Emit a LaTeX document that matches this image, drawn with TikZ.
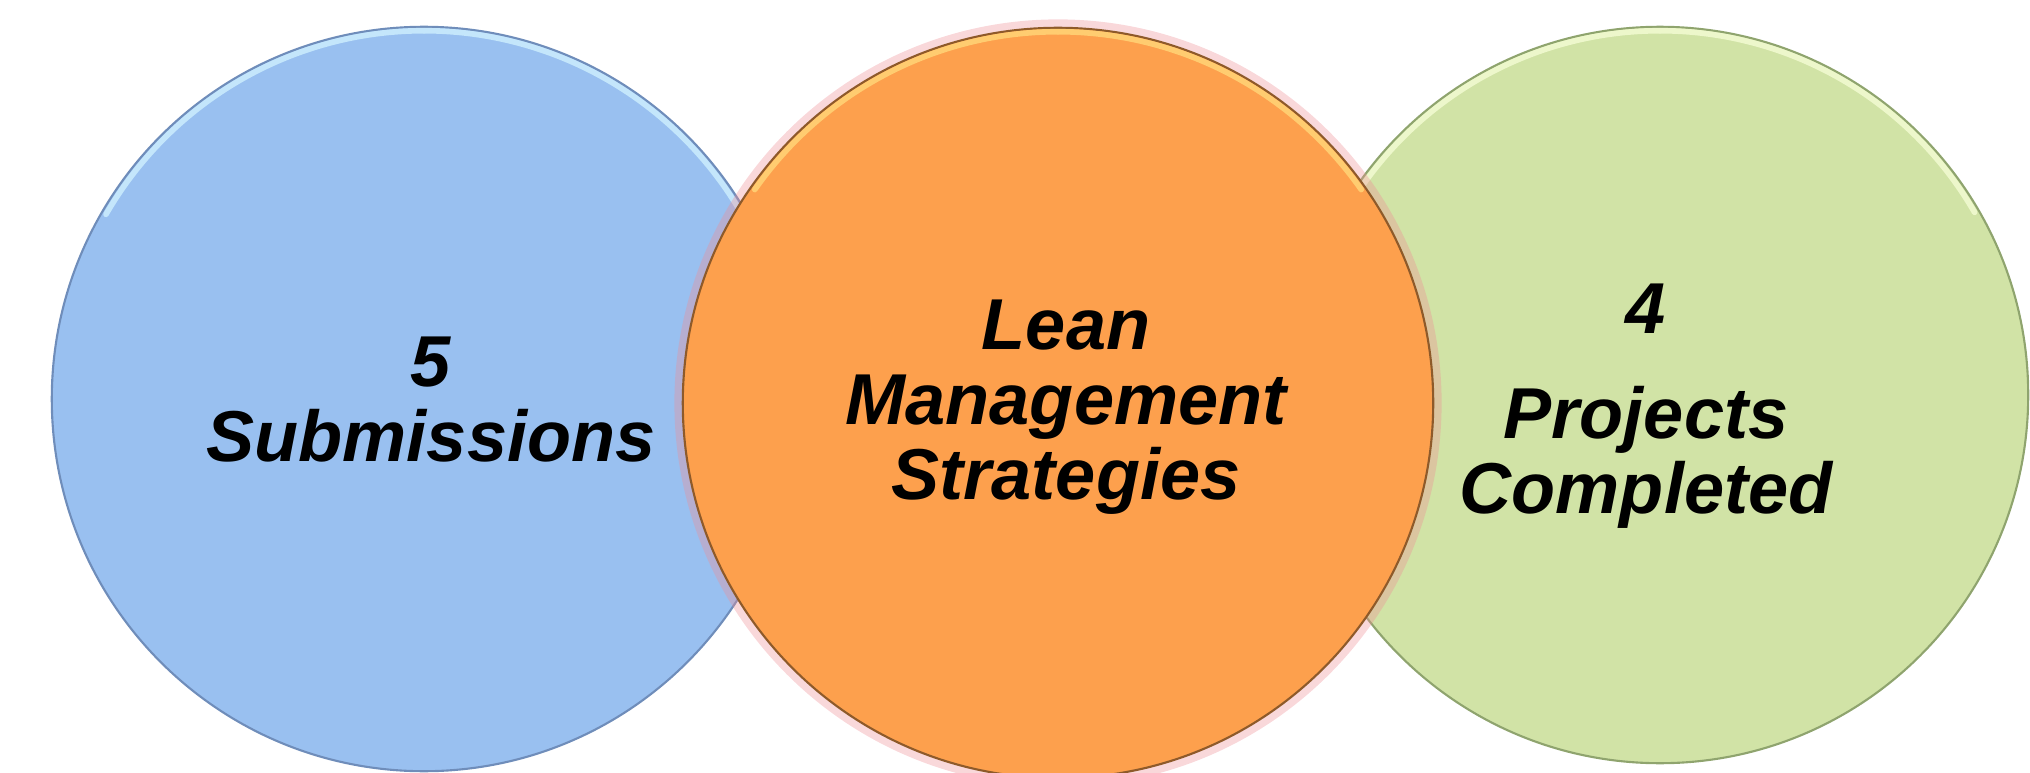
\documentclass[tikz,border=0pt]{standalone}
\usepackage{fontspec}
\setmainfont{Liberation Sans}

\definecolor{subsfill}{HTML}{99C0F0}
\definecolor{subsline}{HTML}{6F8DBA}
\definecolor{subslight}{HTML}{C4E6FB}
\definecolor{leanfill}{HTML}{FDA04D}
\definecolor{leanline}{HTML}{8E5A2A}
\definecolor{leanlight}{HTML}{FFCC70}
\definecolor{leanglow}{HTML}{EE8E96}
\definecolor{projfill}{HTML}{D1E3A6}
\definecolor{projline}{HTML}{8FA46E}
\definecolor{projlight}{HTML}{EDF7CB}

\tikzset{
  disc/.style={circle,draw,line width=.6pt,inner sep=0pt},
  rim/.style={line width=1.6pt,line cap=round},
  label/.style={align=center,font=\fontsize{20.5pt}{21.3pt}\selectfont\bfseries\itshape}
}

\begin{document}
\begin{tikzpicture}[x=0.01cm,y=-0.01cm]

        \useasboundingbox (0,0) rectangle (2030,773);

        % the two outer circles
        \node[disc,fill=subsfill,draw=subsline,minimum size=7.44cm] (subs) at (424,399)  {};
        \node[disc,fill=projfill,draw=projline,minimum size=7.36cm] (proj) at (1660,395) {};
        \draw[rim,subslight] (subs.north) ++(0,5) arc[start angle=90,end angle=150,radius=3.67cm];
        \draw[rim,subslight] (subs.north) ++(0,5) arc[start angle=90,end angle=30,radius=3.67cm];
        \draw[rim,projlight] (proj.north) ++(0,5) arc[start angle=90,end angle=150,radius=3.63cm];
        \draw[rim,projlight] (proj.north) ++(0,5) arc[start angle=90,end angle=30,radius=3.63cm];

        % the middle circle, on top
        \node[disc,draw=leanglow,line width=2.5pt,opacity=.35,minimum size=7.58cm] (glow) at (1058,403) {};
        \node[disc,fill=leanfill,draw=leanline,minimum size=7.5cm] (lean) at (1058,403) {};
        \draw[rim,leanlight] (lean.north) ++(0,5) arc[start angle=90,end angle=145,radius=3.7cm];
        \draw[rim,leanlight] (lean.north) ++(0,5) arc[start angle=90,end angle=35,radius=3.7cm];

        \node[label] (subslabel) at (431,400)  {5\\Submissions};
        \node[label] (leanlabel) at (1066,407) {Lean\\Management\\Strategies};
        \node[label] (projlabel) at (1646,406) {4\\[8.5pt]Projects\\Completed};

      \end{tikzpicture}
\end{document}
